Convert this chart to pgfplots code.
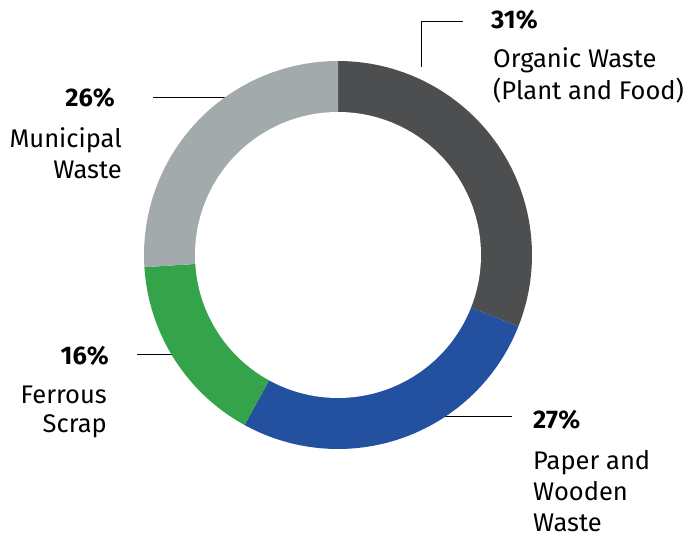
\documentclass[border=0pt]{standalone}
\usepackage{pgfplots}
\pgfplotsset{compat=1.18}
\usepackage{fontspec}
\setmainfont{Fira Sans}
\definecolor{cOrg}{HTML}{4D4E50}
\definecolor{cPap}{HTML}{2351A0}
\definecolor{cFer}{HTML}{34A34A}
\definecolor{cMun}{HTML}{A3AAAC}
% shares in percent
\def\vOrg{31}\def\vPap{27}\def\vFer{16}\def\vMun{26}
\pgfmathsetmacro\aA{90}
\pgfmathsetmacro\aB{\aA-3.6*\vOrg}
\pgfmathsetmacro\aC{\aB-3.6*\vPap}
\pgfmathsetmacro\aD{\aC-3.6*\vFer}
\pgfmathsetmacro\aE{\aD-3.6*\vMun}
\begin{document}
\begin{tikzpicture}
\begin{axis}[
  scale only axis, width=691pt, height=537pt,
  xmin=0, xmax=691, ymin=0, ymax=537,
  hide axis, clip=false, xtick=\empty, ytick=\empty,
]
\path (axis cs:0,0) rectangle (axis cs:691,537);
% leader lines
\addplot[black, line width=0.9pt] coordinates {(421,470) (421,516) (463,516)};
\addplot[black, line width=0.9pt] coordinates {(153,440) (232,440)};
\addplot[black, line width=0.9pt] coordinates {(137,183) (180,183)};
\addplot[black, line width=0.9pt] coordinates {(430,121) (512,121)};
% slices
\addplot[fill=cOrg, draw=none, domain=\aB:\aA, samples=90, variable=\t] ({338+194*cos(\t)},{282+194*sin(\t)}) -- (axis cs:338,282) -- cycle;
\addplot[fill=cPap, draw=none, domain=\aC:\aB, samples=90, variable=\t] ({338+194*cos(\t)},{282+194*sin(\t)}) -- (axis cs:338,282) -- cycle;
\addplot[fill=cFer, draw=none, domain=\aD:\aC, samples=60, variable=\t] ({338+194*cos(\t)},{282+194*sin(\t)}) -- (axis cs:338,282) -- cycle;
\addplot[fill=cMun, draw=none, domain=\aE:\aD, samples=90, variable=\t] ({338+194*cos(\t)},{282+194*sin(\t)}) -- (axis cs:338,282) -- cycle;
\addplot[fill=white, draw=none, domain=0:360, samples=181, variable=\t] ({338+143*cos(\t)},{282+143*sin(\t)}) -- cycle;
% labels
\begin{scope}[every node/.style={inner sep=0pt, font=\fontsize{25.5}{32}\selectfont}]
\node[anchor=base west] at (axis cs:491,508) {\textbf{31\%}};
\node[anchor=base west] at (axis cs:493,469) {Organic Waste};
\node[anchor=base west] at (axis cs:493,437) {(Plant and Food)};
\node[anchor=base east] at (axis cs:115,430) {\textbf{26\%}};
\node[anchor=base east] at (axis cs:122,389) {Municipal};
\node[anchor=base east] at (axis cs:122,358) {Waste};
\node[anchor=base east] at (axis cs:109,172) {\textbf{16\%}};
\node[anchor=base east] at (axis cs:107,133) {Ferrous};
\node[anchor=base east] at (axis cs:107,104) {Scrap};
\node[anchor=base west] at (axis cs:533,108) {\textbf{27\%}};
\node[anchor=base west] at (axis cs:533,67) {Paper and};
\node[anchor=base west] at (axis cs:533,36) {Wooden};
\node[anchor=base west] at (axis cs:533,5) {Waste};
\end{scope}
\end{axis}
\end{tikzpicture}
\end{document}
